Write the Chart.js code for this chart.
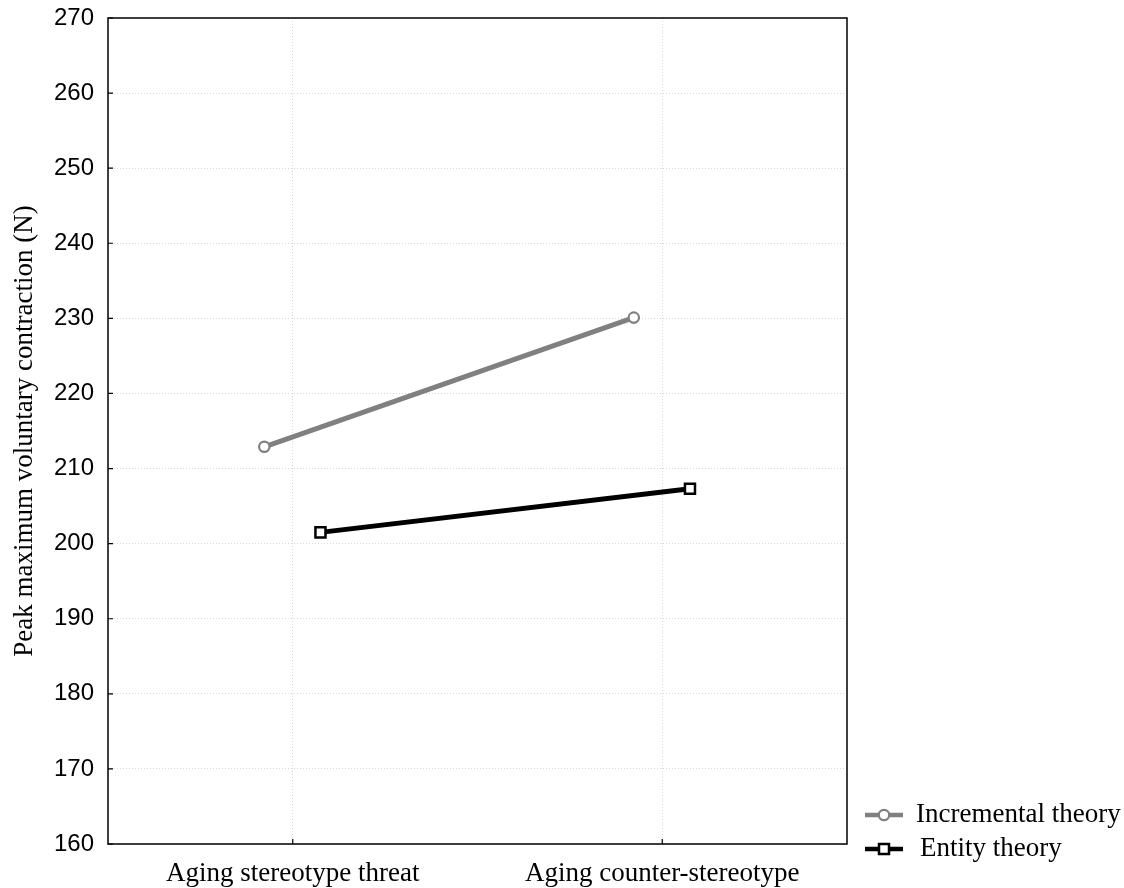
<!DOCTYPE html>
<html>
<head>
<meta charset="utf-8">
<script src="https://cdn.jsdelivr.net/npm/chart.js@4/dist/chart.umd.min.js"></script>
<style>
  body { margin: 0; background: #fff; }
  #wrap { width: 1124px; height: 888px; }
</style>
</head>
<body>
<div id="wrap"><canvas id="chartPmvc"></canvas></div>
<script>
// Peak MVC by condition and implicit theory

const conditions = ['Aging stereotype threat', 'Aging counter-stereotype'];
const incremental = [212.9, 230.1];
const entity = [201.5, 207.3];
const yTicks = [160, 170, 180, 190, 200, 210, 220, 230, 240, 250, 260, 270];
// small horizontal dodge of each series around the category position
const dodge = { incremental: -0.077, entity: 0.075 };

const serif = '"Liberation Serif", "Times New Roman", serif';
const sans = '"Liberation Sans", Arial, sans-serif';

function points(values, shift) {
    return values.map((v, i) => ({ x: i + shift, y: v }));
}

// box around the plot, inward ticks, and the legend at the lower right
const framePlugin = {
    id: 'frame',
    afterDraw(chart) {
        const { ctx, chartArea: a, scales } = chart;
        ctx.save();
        ctx.strokeStyle = '#000';
        ctx.lineWidth = 1.5;
        ctx.strokeRect(a.left, a.top, a.right - a.left, a.bottom - a.top);

        ctx.lineWidth = 1.2;
        ctx.beginPath();
        yTicks.forEach(t => {
            const y = scales.y.getPixelForValue(t);
            ctx.moveTo(a.left, y);
            ctx.lineTo(a.left + 5, y);
        });
        conditions.forEach((_, i) => {
            const x = scales.x.getPixelForValue(i);
            ctx.moveTo(x, a.bottom);
            ctx.lineTo(x, a.bottom - 5);
        });
        ctx.stroke();

        // legend
        const rows = [815, 849];
        chart.data.datasets.forEach((ds, i) => {
            const y = rows[i];
            ctx.strokeStyle = ds.borderColor;
            ctx.lineWidth = 4.5;
            ctx.beginPath();
            ctx.moveTo(865, y);
            ctx.lineTo(903, y);
            ctx.stroke();
            ctx.fillStyle = '#fff';
            ctx.strokeStyle = ds.pointBorderColor;
            ctx.lineWidth = ds.pointBorderWidth;
            ctx.beginPath();
            if (ds.pointStyle === 'rect') {
                ctx.rect(884 - 5, y - 5, 10, 10);
            } else {
                ctx.arc(884, y, 5.2, 0, Math.PI * 2);
            }
            ctx.fill();
            ctx.stroke();
            ctx.fillStyle = '#000';
            ctx.font = '27px ' + serif;
            ctx.textBaseline = 'middle';
            ctx.textAlign = 'left';
            ctx.fillText(ds.label, i === 0 ? 916 : 920, y);
        });
        ctx.restore();
    }
};

new Chart(document.getElementById('chartPmvc'), {
    type: 'line',
    data: {
        datasets: [
            {
                label: 'Incremental theory',
                data: points(incremental, dodge.incremental),
                borderColor: '#808080',
                borderWidth: 5,
                pointStyle: 'circle',
                pointRadius: 5.2,
                pointBorderWidth: 2.2,
                pointBorderColor: '#808080',
                pointBackgroundColor: '#fff',
            },
            {
                label: 'Entity theory',
                data: points(entity, dodge.entity),
                borderColor: '#000',
                borderWidth: 5,
                pointStyle: 'rect',
                pointRadius: 7.1,
                pointBorderWidth: 2.5,
                pointBorderColor: '#000',
                pointBackgroundColor: '#fff',
            }
        ]
    },
    options: {
        responsive: true,
        maintainAspectRatio: false,
        animation: false,
        events: [],
        layout: { padding: { left: 0, top: 18, right: 277, bottom: 0 } },
        plugins: { legend: { display: false }, tooltip: { enabled: false } },
        scales: {
            x: {
                type: 'linear',
                min: -0.5,
                max: 1.5,
                afterBuildTicks: s => { s.ticks = conditions.map((_, i) => ({ value: i })); },
                afterFit: s => { s.height = 44; },
                ticks: {
                    color: '#000',
                    padding: 14,
                    font: { family: serif, size: 27 },
                    callback: v => conditions[v] ?? ''
                },
                grid: { color: '#d9d9d9', lineWidth: 1, drawTicks: false },
                border: { display: false, dash: [1, 2] }
            },
            y: {
                min: 160,
                max: 270,
                afterBuildTicks: s => { s.ticks = yTicks.map(v => ({ value: v })); },
                afterFit: s => { s.width = 108; s.paddingTop = 0; s.paddingBottom = 0; },
                ticks: {
                    color: '#000',
                    padding: 14,
                    font: { family: sans, size: 24 }
                },
                grid: { color: '#d9d9d9', lineWidth: 1, drawTicks: false },
                border: { display: false, dash: [1, 2] },
                title: {
                    display: true,
                    text: 'Peak maximum voluntary contraction (N)',
                    color: '#000',
                    font: { family: serif, size: 27 },
                    padding: { top: 9, bottom: 0 }
                }
            }
        }
    },
    plugins: [framePlugin]
});
</script>
</body>
</html>
